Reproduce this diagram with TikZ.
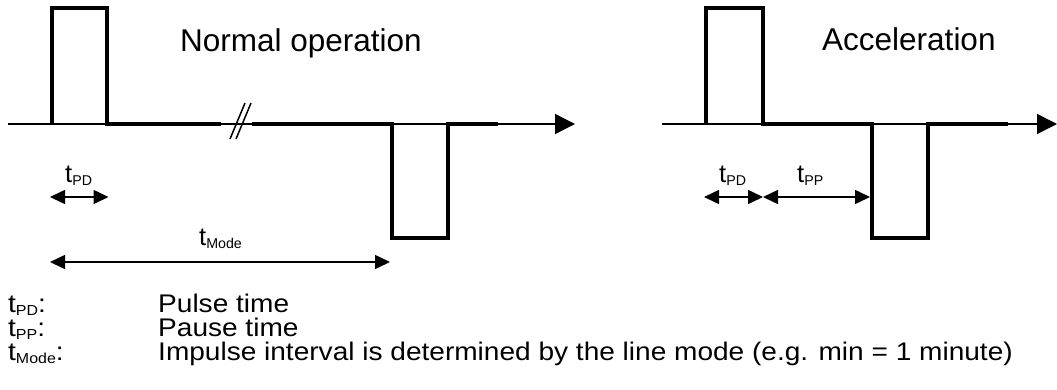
\documentclass[tikz,border=0pt]{standalone}
\usepackage{fontspec}
\setmainfont{Liberation Sans}
\newfontfamily\legfont{Liberation Sans}[FakeStretch=1.1]
\usetikzlibrary{arrows.meta}
\newcommand\lblt[1]{\fontsize{25.5}{28}\selectfont t\raisebox{-3.5pt}{\fontsize{14.2}{16}\selectfont #1}}
\newcommand\legt[1]{\legfont\fontsize{25.5}{30}\selectfont t\raisebox{-3.5pt}{\fontsize{14.5}{17}\selectfont #1}:}
\begin{document}
\begin{tikzpicture}[x=1pt,y=-1pt,
  axis/.style={line width=1.5pt,-{Triangle[length=20pt,width=20pt]}},
  wave/.style={line width=4.5pt,line join=miter},
  brk/.style={line width=1.5pt},
  dim/.style={line width=1.5pt,{Triangle[length=15pt,width=14pt]}-{Triangle[length=15pt,width=14pt]}},
  txt/.style={anchor=base west,inner sep=0pt},
  heading/.style={txt,font=\fontsize{31.5}{36}\selectfont},
  legend/.style={txt,font=\legfont\fontsize{25.5}{30}\selectfont}]
\useasboundingbox (0,0) rectangle (1057,389);
% ---------- left: normal operation ----------
\coordinate (La0) at (8,124);
\coordinate (La1) at (575,124);
\draw[axis] (La0) -- (La1);
\coordinate (P1) at (52,124);
\coordinate (P2) at (107,124);
\coordinate (B1) at (221,124);
\coordinate (B2) at (252,124);
\coordinate (N1) at (392,124);
\coordinate (N2) at (448,124);
\coordinate (E1) at (498,124);
\draw[wave] (P1) -- (52,8) -- (107,8) -- (P2) -- (B1);
\draw[wave] (B2) -- (N1) -- (392,238) -- (448,238) -- (N2) -- (E1);
\draw[brk] (230,139) -- (245,103);
\draw[brk] (236,139) -- (251,103);
\node[heading] (h1) at (180,51) {Normal operation};
\coordinate (dA) at (50,197);
\coordinate (dB) at (108.5,197);
\draw[dim] (dA) -- (dB);
\node[txt] (l1) at (65,182) {\lblt{PD}};
\coordinate (mA) at (50,262);
\coordinate (mB) at (390,262);
\draw[dim] (mA) -- (mB);
\node[txt] (l2) at (199,245) {\lblt{Mode}};
% ---------- right: acceleration ----------
\coordinate (Ra0) at (662,124);
\coordinate (Ra1) at (1057,124);
\draw[axis] (Ra0) -- (Ra1);
\coordinate (Q1) at (706,124);
\coordinate (Q2) at (763,124);
\coordinate (M1) at (872,124);
\coordinate (M2) at (928,124);
\coordinate (F1) at (1008,124);
\draw[wave] (Q1) -- (706,8) -- (763,8) -- (Q2) -- (M1) -- (872,238) -- (928,238) -- (M2) -- (F1);
\node[heading] (h2) at (822,50) {Acceleration};
\coordinate (rA) at (704,197);
\coordinate (rB) at (763,197);
\coordinate (rC) at (870,197);
\draw[dim] (rA) -- (rB);
\draw[dim] (rB) -- (rC);
\node[txt] (l3) at (719,182) {\lblt{PD}};
\node[txt] (l4) at (797,182) {\lblt{PP}};
% ---------- legend ----------
\node[legend] (k1) at (8,312) {\legt{PD}};
\node[legend] (k2) at (8,336) {\legt{PP}};
\node[legend] (k3) at (8,360) {\legt{Mode}};
\node[legend] (d1) at (158,312) {Pulse time};
\node[legend] (d2) at (158,336) {Pause time};
\node[legend] (d3) at (158,360) {Impulse interval is determined by the line mode (e.g. min = 1 minute)};
\end{tikzpicture}
\end{document}
